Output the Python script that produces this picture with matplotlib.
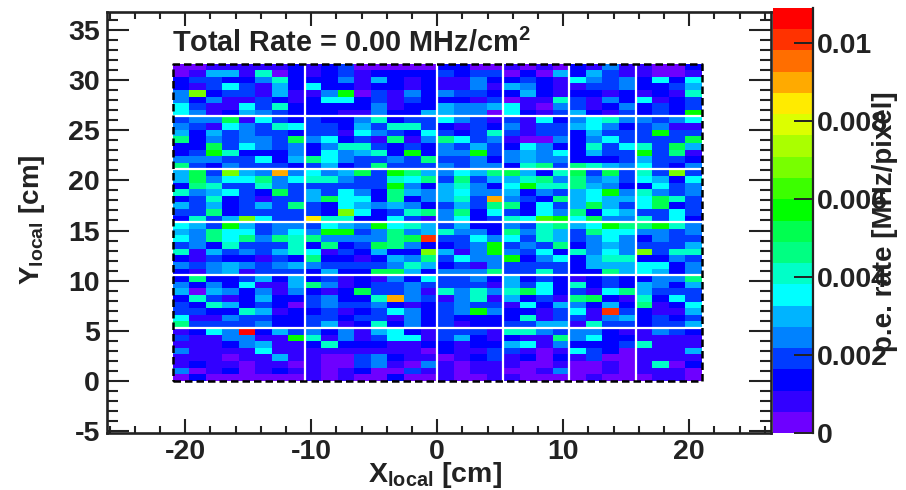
import numpy as np
import matplotlib
matplotlib.use("Agg")
import matplotlib.pyplot as plt
from matplotlib.colors import ListedColormap, BoundaryNorm
from matplotlib.ticker import MultipleLocator

plt.rcParams['font.family'] = ['Liberation Sans', 'DejaVu Sans']
plt.rcParams['font.weight'] = 'bold'
plt.rcParams['axes.unicode_minus'] = False
plt.rcParams['mathtext.fontset'] = 'custom'
plt.rcParams['mathtext.rm'] = 'Liberation Sans:bold'
plt.rcParams['mathtext.bf'] = 'Liberation Sans:bold'
plt.rcParams['mathtext.default'] = 'rm'

# Colour-band index of each cell (0-9, a-j), top row first
section_a = [
    "00111112123000002200101021411002",
    "01551702123122223233020525311001",
    "23322472224152121142232164342626",
    "21363152622122121141542113342235",
    "4c23315114a031424332252122121217",
    "42411321266231322213011731426123",
    "63116372222241225445610431242323",
    "6412543222114225544062135213232a",
]
section_b = [
    "34491632322472336431316246744346",
    "43164376332537732132413356423411",
    "52534332331643263237313325333a33",
    "82434439462318148634100424633339",
    "22936434247732324353264227367395",
    "23a72224264572a244a345462533a381",
    "44433625864334383342454422235332",
    "83243332352383334344278387546324",
]
section_c = [
    "593c54g464593a8546589527939373c3",
    "59466846774337683835578484536526",
    "2873374333333a425742" + "6a7785422634",
    "74563293536428545644524356a47434",
    "2372313359662824573g432856556973",
    "53523538326545423538826359536923",
    "3382333332c623784826326482653363",
    "2735c633f7722631462376ba69447362",
]
section_d = [
    "653a53443654a6753522437856a88a74",
    "548663464aa348457442847538664434",
    "648684878444489i3364637534642433",
    "3427333728239842234a343824543335",
    "713534576132522c514a43627464c377".replace("71353457", "71534357"),
    "21322132822125483644a24625772243",
    "43454345433334752314333325556624",
    "21451333252299524448337322856524",
]
section_e = [
    "28223525231214263342523212322448",
    "42426115841233433331536272325425",
    "50542414212933417474796231685333",
    "2731252234227g431471523189217263",
    "32752320343342123433162542528126",
    "332275122312364234a4221361i32115",
    "61143322332331423222271331452323",
    "83333422351272423122335517332335",
]
section_f = [
    "1264j253424156213331774344211432",
    "3114411a714136613521211846221111",
    "11124511272221122122561422237111",
    "41111611111111102113310163201115",
    "11101151100342110123120213001111",
    "12110110100341041011100100101702",
    "40120121101200311011001400101110",
    "02000000101002001001100001000110",
]
column_sections = [8, 8, 4, 4, 4, 4]

band_colors = [
    "#6e00ff", "#3200ff", "#0000ff", "#003cff", "#0082ff",
    "#00b4ff", "#00ffff", "#00ffc8", "#00ff82", "#00ff50",
    "#00ff00", "#3cff00", "#78ff00", "#aaff00", "#dcff00",
    "#ffeb00", "#ffaa00", "#ff6e00", "#ff3200", "#ff0000",
]
z_max = 0.0109
cbar_ticks = [0, 0.002, 0.004, 0.006, 0.008, 0.01]
cbar_labels = ["0", "0.002", "0.004", "0.006", "0.008", "0.01"]

X_RANGE = (-21.0, 21.0)
Y_RANGE = (0.0, 31.65)

sections = [section_a, section_b, section_c, section_d, section_e, section_f]
rows = [r for s in sections for r in s]
levels = np.array([[int(ch, 20) for ch in r] for r in rows], dtype=float)
step = z_max / len(band_colors)
rate = ((levels + 0.5) * step)[::-1]

W, H = 906, 490
fig = plt.figure(figsize=(W / 100, H / 100), dpi=100)
L, R, T, B = 107, 771, 12, 433
ax = fig.add_axes([L / W, 1 - B / H, (R - L) / W, (B - T) / H])
cax = fig.add_axes([773 / W, 1 - 433 / H, 40 / W, 425 / H])

x_edges = np.linspace(X_RANGE[0], X_RANGE[1], levels.shape[1] + 1)
y_edges = np.linspace(Y_RANGE[0], Y_RANGE[1], levels.shape[0] + 1)
cmap = ListedColormap(band_colors)
bounds = np.linspace(0, z_max, len(band_colors) + 1)
norm = BoundaryNorm(bounds, cmap.N)
ax.pcolormesh(x_edges, y_edges, rate, cmap=cmap, norm=norm, rasterized=True)

for i in np.cumsum(column_sections)[:-1]:
    ax.plot([x_edges[i]] * 2, Y_RANGE, color="white", lw=1.6, zorder=3)
for i in np.cumsum([len(s) for s in sections])[:-1]:
    ax.plot(X_RANGE, [y_edges[i]] * 2, color="white", lw=1.6, zorder=3)
ax.plot([X_RANGE[0], X_RANGE[1], X_RANGE[1], X_RANGE[0], X_RANGE[0]],
        [Y_RANGE[0], Y_RANGE[0], Y_RANGE[1], Y_RANGE[1], Y_RANGE[0]],
        color="black", lw=1.8, ls=(0, (3.0, 1.6)), zorder=4, clip_on=False)

ax.set_xlim(-26.2, 26.5)
ax.set_ylim(-5.2, 36.8)
ax.xaxis.set_minor_locator(MultipleLocator(2))
ax.yaxis.set_major_locator(MultipleLocator(5))
ax.yaxis.set_minor_locator(MultipleLocator(1))
ax.tick_params(axis="x", which="major", direction="in", length=10, width=1.5,
               top=True, labelsize=20.5, pad=4, colors="#222222")
ax.tick_params(axis="x", which="minor", direction="in", length=5, width=1.5, top=True, colors="#222222")
ax.tick_params(axis="y", which="major", direction="in", length=16, width=1.5,
               right=True, labelsize=20.5, pad=5, colors="#222222")
ax.tick_params(axis="y", which="minor", direction="in", length=8, width=1.5, right=True, colors="#222222")
for s in ax.spines.values():
    s.set_linewidth(1.9)
    s.set_color("#222222")
ax.set_xticks([-20, -10, 0, 10, 20])
ax.set_xticklabels(["-20", "-10", "0", "10", "20"])

fig.text(172 / W, 1 - 43 / H, r"Total Rate = 0.00 MHz/cm$^{2}$", fontsize=20.8,
         va="center", ha="left", color="#222222")
fig.text(435 / W, 1 - 475 / H, r"X$_{local}$ [cm]", fontsize=20.5, ha="center", va="center", color="#222222")
fig.text(32 / W, 1 - 220 / H, r"Y$_{local}$ [cm]", fontsize=20, rotation=90, ha="center", va="center", color="#222222")

sm = plt.cm.ScalarMappable(norm=norm, cmap=cmap)
cb = fig.colorbar(sm, cax=cax, ticks=cbar_ticks, spacing="proportional", drawedges=False)
cb.ax.set_yticklabels(cbar_labels)
cb.minorticks_off()
cax.tick_params(axis="y", direction="in", length=14, width=1.4, labelsize=20.5, pad=3,
                right=True, left=False, colors="#222222")
for name, s in cax.spines.items():
    s.set_visible(name == "right")
    s.set_linewidth(1.6)
    s.set_color("#222222")
fig.text(885 / W, 1 - 222 / H, "p.e. rate [MHz/pixel]", fontsize=20, rotation=90,
         ha="center", va="center", color="#222222")

fig.savefig("out.png", dpi=100)
